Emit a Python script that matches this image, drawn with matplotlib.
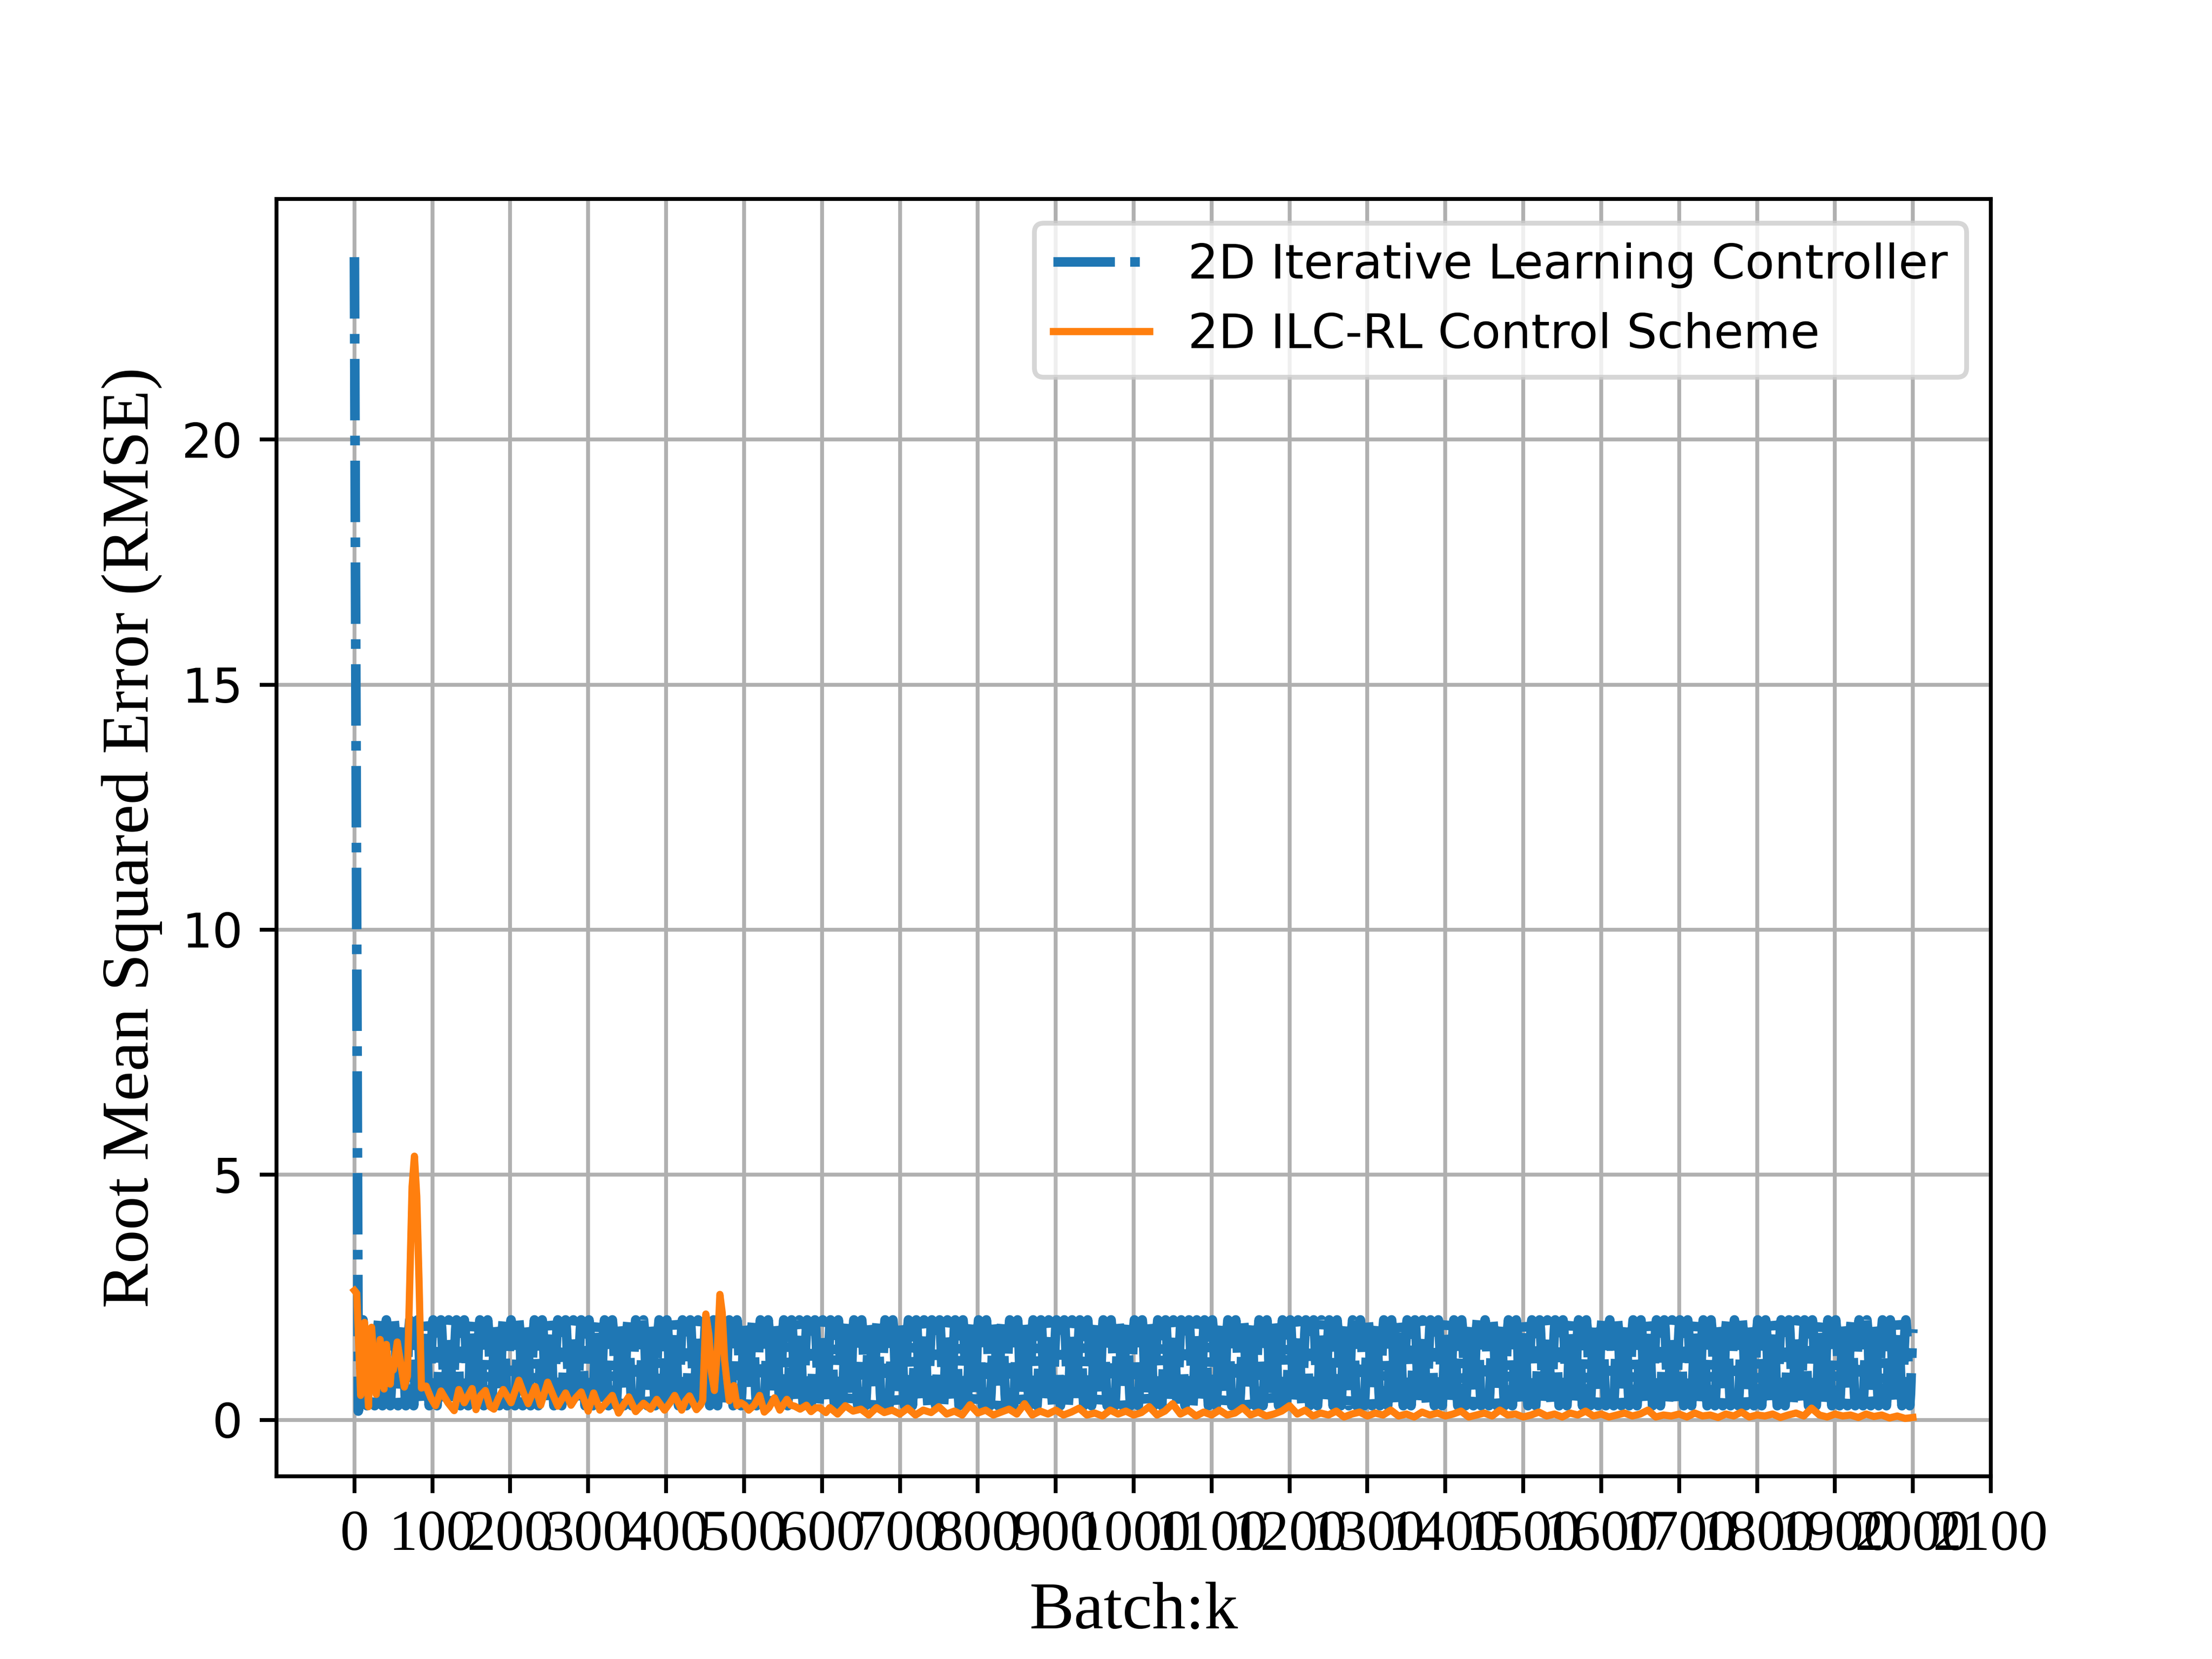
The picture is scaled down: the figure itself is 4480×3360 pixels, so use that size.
import numpy as np
import matplotlib
matplotlib.use("Agg")
import matplotlib.pyplot as plt

# --- data ---
# 2D ILC: sharp drop from the first batch, then a steady 10-batch oscillation
ilc_head = [23.72, 19.0, 14.3, 9.5, 4.8, 0.18]
ilc_cycle = [0.29, 0.55, 1.0, 1.5, 1.85, 2.04, 1.85, 1.5, 1.0, 0.55]
n_batches = 2001

# 2D ILC-RL: keypoints for the first ~600 batches
rl_x_early = [0, 3, 8, 13, 18, 22, 28, 33, 38, 41, 46, 48, 50, 55, 60, 64, 68,
              71, 74, 77, 80, 83, 86, 92, 98, 104, 111, 120, 128, 134, 141,
              151, 156, 162, 168, 174, 179, 185, 191, 201, 211, 217, 223, 232,
              239, 248, 255, 261, 271, 278, 284, 291, 300, 307, 315, 323, 331,
              339, 345, 352, 361, 371, 380, 388, 398, 405, 411, 420, 425, 430,
              436, 439, 444, 447, 451, 455, 458, 462, 466, 469, 472, 475, 478,
              481, 487, 491, 496, 501, 506, 513, 520, 526, 532, 539, 546, 555,
              560, 565, 572, 580, 586, 592, 597, 605]
rl_y_early = [2.64, 2.58, 0.5, 1.99, 0.27, 1.89, 0.52, 1.64, 0.63, 1.54, 0.73,
              1.19, 1.02, 1.59, 1.09, 0.67, 0.89, 2.78, 4.76, 5.38, 4.56, 2.78,
              0.65, 0.69, 0.45, 0.29, 0.59, 0.35, 0.19, 0.62, 0.35, 0.64, 0.21,
              0.5, 0.6, 0.27, 0.22, 0.45, 0.62, 0.35, 0.81, 0.55, 0.33, 0.68,
              0.3, 0.77, 0.5, 0.28, 0.55, 0.3, 0.45, 0.57, 0.18, 0.55, 0.2,
              0.35, 0.5, 0.14, 0.3, 0.47, 0.17, 0.34, 0.22, 0.42, 0.2, 0.35,
              0.5, 0.2, 0.39, 0.49, 0.3, 0.21, 0.3, 0.4, 2.16, 1.73, 0.99,
              0.6, 1.49, 2.56, 2.19, 1.23, 0.79, 0.39, 0.7, 0.29, 0.35, 0.3,
              0.2, 0.3, 0.5, 0.16, 0.25, 0.45, 0.2, 0.42, 0.3, 0.28, 0.22,
              0.3, 0.17, 0.25, 0.25, 0.15]

# 2D ILC-RL: every 10 batches from 610 to 2000
rl_y_late = [0.25, 0.12, 0.29, 0.18, 0.22, 0.1, 0.25, 0.15, 0.2, 0.12,
             0.24, 0.1, 0.2, 0.15, 0.27, 0.12, 0.18, 0.1, 0.31, 0.14,
             0.2, 0.1, 0.16, 0.22, 0.12, 0.33, 0.1, 0.18, 0.12, 0.2,
             0.1, 0.16, 0.24, 0.1, 0.14, 0.08, 0.2, 0.12, 0.18, 0.1,
             0.15, 0.27, 0.1, 0.18, 0.33, 0.12, 0.2, 0.08, 0.16, 0.1,
             0.2, 0.1, 0.14, 0.25, 0.1, 0.16, 0.08, 0.12, 0.18, 0.29,
             0.12, 0.2, 0.08, 0.14, 0.1, 0.18, 0.06, 0.12, 0.16, 0.08,
             0.14, 0.1, 0.2, 0.08, 0.12, 0.06, 0.16, 0.1, 0.14, 0.08,
             0.12, 0.18, 0.06, 0.1, 0.14, 0.08, 0.2, 0.1, 0.12, 0.06,
             0.1, 0.16, 0.08, 0.12, 0.06, 0.14, 0.1, 0.18, 0.08, 0.12,
             0.06, 0.1, 0.14, 0.08, 0.12, 0.2, 0.06, 0.1, 0.08, 0.12,
             0.06, 0.14, 0.08, 0.1, 0.05, 0.12, 0.08, 0.16, 0.06, 0.1,
             0.08, 0.12, 0.05, 0.1, 0.14, 0.08, 0.24, 0.1, 0.06, 0.12,
             0.08, 0.1, 0.05, 0.12, 0.07, 0.1, 0.04, 0.08, 0.03, 0.05]
rl_x_late = list(range(610, 2001, 10))

x_ticks = list(range(0, 2101, 100))

serif = "Liberation Serif"

ilc_rmse = ilc_head + ilc_cycle * ((n_batches - len(ilc_head)) // len(ilc_cycle) + 1)
ilc_rmse = ilc_rmse[:n_batches]
ilc_batches = np.arange(n_batches)

rl_batches = rl_x_early + rl_x_late
rl_rmse = rl_y_early + rl_y_late

fig, ax = plt.subplots(figsize=(6.4, 4.8), dpi=700)

ax.plot(ilc_batches, ilc_rmse, "-.", linewidth=2, label="2D Iterative Learning Controller")
ax.plot(rl_batches, rl_rmse, "-", linewidth=1.5, label="2D ILC-RL Control Scheme")

ax.set_xticks(x_ticks)
plt.setp(ax.get_xticklabels(), family=serif, fontsize=12)

ax.set_xlabel("Batch:k", family=serif, fontsize=14)
ax.set_ylabel("Root Mean Squared Error (RMSE)", family=serif, fontsize=14)

ax.grid(True)
ax.legend(loc="upper right")

plt.savefig("out.png", dpi=700)
plt.close()
